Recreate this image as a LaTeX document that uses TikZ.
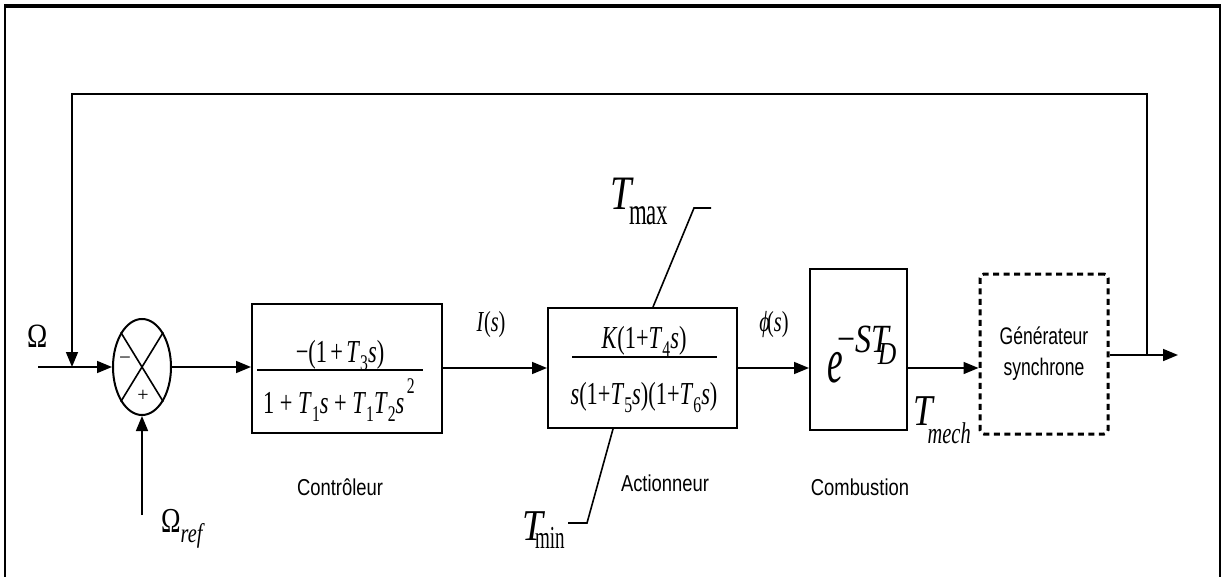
\documentclass[tikz,border=0pt]{standalone}
\usepackage{fontspec}
\usepackage{graphicx}
\setmainfont{Liberation Serif}
\setsansfont{Liberation Sans}
\usetikzlibrary{shapes.geometric,arrows.meta}
\newcommand\xs[2][0.7]{\scalebox{#1}[1]{#2}}
\newcommand\fs[1]{\fontsize{#1}{#1}\selectfont}
\newcommand\sub[1]{\raisebox{-0.25em}{\scalebox{0.7}{#1}}}
\newcommand\sups[1]{\raisebox{0.6em}{\scalebox{0.7}{#1}}}
\begin{document}
\begin{tikzpicture}[x=1pt,y=-1pt,
  line/.style={line width=1.6pt},
  arr/.style={line width=1.6pt,-{Triangle[length=15pt,width=12pt]}},
  blk/.style={draw,line width=2pt,inner sep=0pt},
  lbl/.style={inner sep=0pt},
  captxt/.style={inner sep=0pt,font=\sffamily\fs{23}},
]
\useasboundingbox (0,0) rectangle (1225,577);
\draw[line width=2.5pt] (5,578) -- (5,6) -- (1220,6) -- (1220,578);
\draw[line width=3.5pt] (4,6) -- (1221,6);

% summing junction
\node[blk,ellipse,minimum width=58pt,minimum height=96pt] (sum) at (142,367) {};
\draw[line] (sum.north west) -- (sum.south east);
\draw[line] (sum.north east) -- (sum.south west);
\node[lbl] (minus) at (125,361) {\fs{21}−};
\node[lbl] (plus) at (143,396) {\fs{20}+};

% blocks
\node[blk,minimum width=190pt,minimum height=129pt] (ctrl) at (347,368.5) {};
\node[blk,minimum width=189pt,minimum height=120pt] (act) at (642.5,368) {};
\node[blk,minimum width=97pt,minimum height=161pt] (comb) at (858.5,349.5) {};
\node[draw,line width=3pt,dash pattern=on 6pt off 4.5pt,rounded corners=4pt,
      minimum width=128pt,minimum height=160pt,inner sep=0pt,align=center,
      font=\sffamily\fontsize{24}{31}\selectfont] (gen) at (1044,354)
      {\xs[0.73]{Générateur}\\\xs[0.73]{synchrone}};

% fractions
\node[lbl,anchor=base] (num1) at (340,362) {\xs{\fs{32}−(1\hspace{0.15em}+\hspace{0.15em}\textit{T}\sub{3}\textit{s})}};
\node[lbl,anchor=base] (den1) at (339,413) {\xs{\fs{32}1 + \textit{T}\sub{1}\textit{s} + \textit{T}\sub{1}\textit{T}\sub{2}\textit{s}\sups{\,2}}};
\draw[line] (257,370) -- (423,370);
\node[lbl,anchor=base] (num2) at (644,348) {\xs{\fs{32}\textit{K}(1+\textit{T}\sub{4}\textit{s})}};
\node[lbl,anchor=base] (den2) at (644,404) {\xs{\fs{32}\textit{s}(1+\textit{T}\sub{5}\textit{s})(1+\textit{T}\sub{6}\textit{s})}};
\draw[line] (572,357) -- (717,357);

% exponential
\node[lbl,anchor=base west] (expo) at (827,382)
  {\xs[0.55]{\fs{64}\textit{e}}\hspace{-5pt}\raisebox{30pt}{\xs[0.8]{\fs{40}−\textit{S}\textit{T}\hspace{-17pt}\raisebox{-12pt}{\fs{32}\textit{D}}}}};

% signal labels
\node[lbl,anchor=base west] (omega) at (27,347) {\xs[0.8]{\fs{34}Ω}};
\node[lbl,anchor=base west] (omref) at (161,532) {\xs[0.75]{\fs{35}Ω\raisebox{-10pt}{\fs{27}\itshape ref}}};
\node[lbl] (Is) at (491,325) {\xs{\fs{29}\textit{I}(\textit{s})}};
\node[lbl] (phis) at (774,325) {\xs{\fs{29}\textit{ϕ}\hspace{-4pt}(\textit{s})}};
\node[lbl,anchor=base west] (tmax) at (610,210) {\xs[0.8]{\fs{48}\textit{T}\hspace{-6pt}\raisebox{-15pt}{\xs[0.75]{\fs{38}max}}}};
\node[lbl,anchor=base west] (tmin) at (522,540) {\xs[0.85]{\fs{44}\textit{T}\hspace{-12pt}\raisebox{-8pt}{\xs[0.7]{\fs{32}min}}}};
\node[lbl,anchor=base west] (tmech) at (913,425) {\xs[0.8]{\fs{44}\textit{T}\hspace{-9pt}\raisebox{-18pt}{\xs[0.85]{\fs{30}\itshape mech}}}};

% captions
\node[captxt] (c1) at (340,487) {\xs[0.8]{Contrôleur}};
\node[captxt] (c2) at (665,483) {\xs[0.8]{Actionneur}};
\node[captxt] (c3) at (860,487) {\xs[0.8]{Combustion}};

% coordinates
\coordinate (in) at (38,367);
\coordinate (refS) at (142,515);
\coordinate (out) at (1178,355);
\coordinate (fbJ) at (1147,355);
\coordinate (fbB) at (1147,94);
\coordinate (fbA) at (72,94);
\coordinate (fbE) at (72,367);
\coordinate (tmaxA) at (694,208);
\coordinate (tmaxB) at (711,208);
\coordinate (tminA) at (587,523);
\coordinate (tminB) at (568,523);

% connectors
\draw[arr] (in) -- (sum.west);
\draw[arr] (fbJ) -- (fbB) -- (fbA) -- (fbE);
\draw[arr] (refS) -- (sum.south);
\draw[arr] (sum.east) -- (ctrl.west |- sum.east);
\draw[arr] (ctrl.east |- act.west) -- (act.west);
\draw[arr] (act.east) -- (act.east -| comb.west);
\draw[arr] (comb.east |- act.east) -- (gen.west |- act.east);
\draw[arr] (gen.east |- out) -- (out);
\draw[line] ([xshift=10.5pt]act.north) -- (tmaxA) -- (tmaxB);
\draw[line] ([xshift=-29.5pt]act.south) -- (tminA) -- (tminB);
\end{tikzpicture}
\end{document}
